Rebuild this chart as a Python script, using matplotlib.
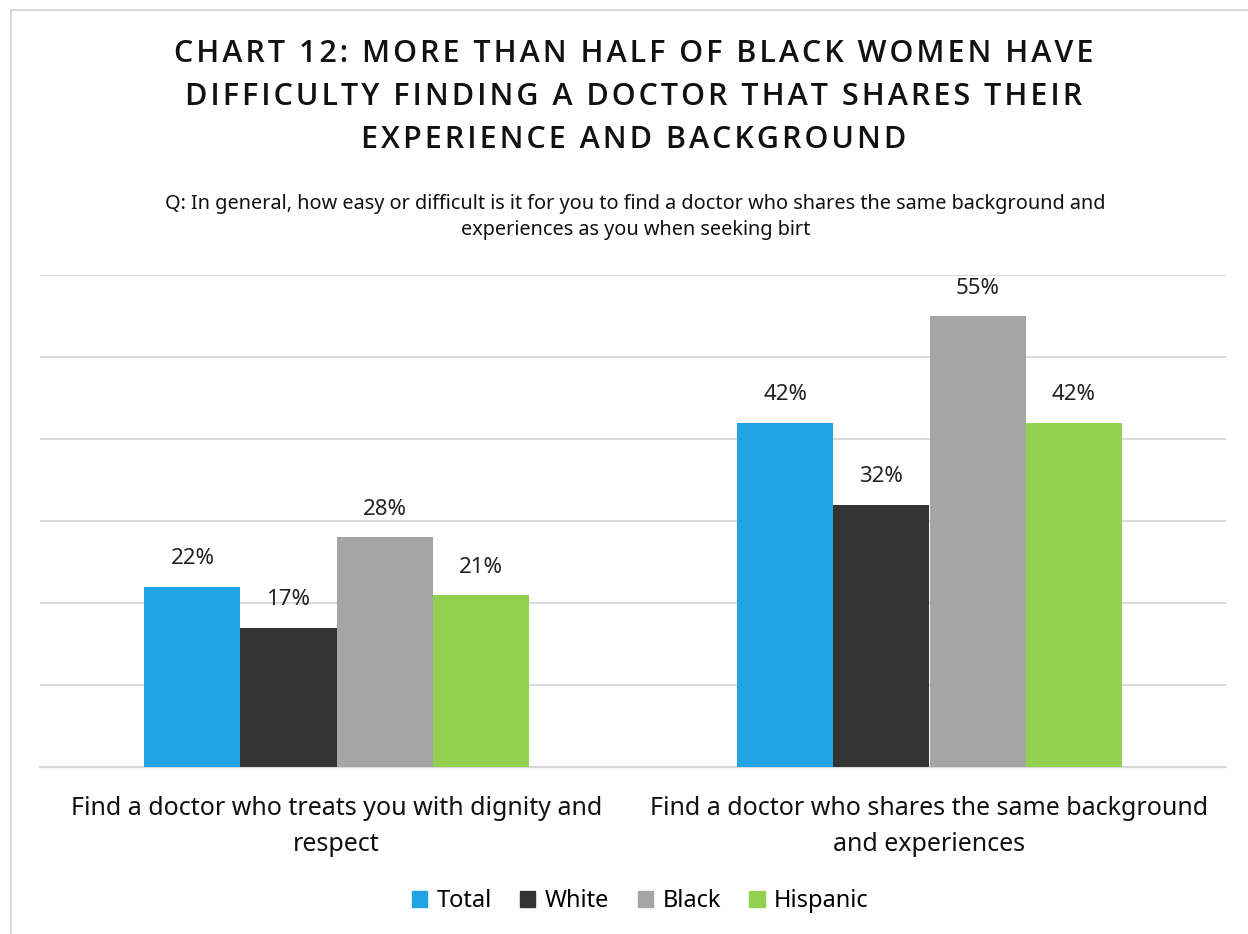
import matplotlib
matplotlib.use("Agg")
import matplotlib.pyplot as plt
import numpy as np
from matplotlib.lines import Line2D
from matplotlib import font_manager as fm

plt.rcParams["font.family"] = ["Noto Sans", "DejaVu Sans"]

categories = ["Find a doctor who treats you with dignity and\nrespect",
              "Find a doctor who shares the same background\nand experiences"]
series = ["Total", "White", "Black", "Hispanic"]
values = {
    "Total": [22, 42],
    "White": [17, 32],
    "Black": [28, 55],
    "Hispanic": [21, 42],
}
colors = {"Total": "#20A4E4", "White": "#333333", "Black": "#A5A5A5", "Hispanic": "#92D050"}

title_lines = ["CHART 12: MORE THAN HALF OF BLACK WOMEN HAVE",
               "DIFFICULTY FINDING A DOCTOR THAT SHARES THEIR",
               "EXPERIENCE AND BACKGROUND"]
subtitle = ("Q: In general, how easy or difficult is it for you to find a doctor who shares the same background and\n"
            "experiences as you when seeking birt")

# pick a real semibold/bold file of a normal-width sans for the title
title_font = None
for fam in ["Open Sans", "Noto Sans", "Lato", "Roboto"]:
    for wt in (600, 700):
        hits = [f for f in fm.fontManager.ttflist
                if f.name == fam and f.weight == wt and f.style == "normal"
                and str(f.stretch) in ("normal", "400", "100")
                and "ond" not in f.fname]
        if hits:
            title_font = fm.FontProperties(fname=hits[0].fname, size=22)
            break
    if title_font is not None:
        break
if title_font is None:
    title_font = fm.FontProperties(family="DejaVu Sans", weight="bold", size=20)

fig = plt.figure(figsize=(12.48, 9.34), dpi=100)
ax = fig.add_axes([40 / 1248, 1 - 767 / 934, (1226 - 40) / 1248, (767 - 275) / 934])

x = np.arange(len(categories))
w = 0.162
for i, s in enumerate(series):
    xs = x + (i - 1.5) * w
    ax.bar(xs, values[s], width=w, color=colors[s], label=s, zorder=3)
    for xi, v in zip(xs, values[s]):
        ax.annotate(f"{v}%", (xi, v), xytext=(0, 20), textcoords="offset points",
                    ha="center", va="center", fontsize=16, color="#222222")

ax.set_xlim(-0.5, 1.5)
ax.set_ylim(0, 60)
ax.set_yticks(np.arange(0, 61, 10))
ax.yaxis.grid(True, color="#D9D9D9", lw=1.4, zorder=0)
ax.tick_params(left=False, labelleft=False, bottom=False)
for sp in ["top", "right", "left"]:
    ax.spines[sp].set_visible(False)
ax.spines["bottom"].set_color("#D9D9D9")
ax.spines["bottom"].set_linewidth(1.6)
ax.set_xticks(x)
ax.set_xticklabels(categories, fontsize=18, color="#111111", linespacing=1.58)
ax.tick_params(axis="x", pad=17.5)

# spaced-out title
spaced = "\n".join("\u200a".join(line) for line in title_lines)
fig.text(0.508, 1 - 97 / 934, spaced, fontproperties=title_font,
         ha="center", va="center", color="#111111", linespacing=1.55)
fig.text(0.509, 1 - 217 / 934, subtitle,
         ha="center", va="center", fontsize=14.3, color="#111111", linespacing=1.4)

handles = [plt.Rectangle((0, 0), 1, 1, color=colors[s]) for s in series]
fig.legend(handles, series, loc="center", bbox_to_anchor=(0.513, 1 - 901 / 934), ncol=4,
           frameon=False, fontsize=17, handlelength=0.65, handleheight=0.65,
           handletextpad=0.4, columnspacing=1.2)

fig.add_artist(Line2D([11 / 1248, 11 / 1248], [0, 1 - 10 / 934], color="#D9D9D9", lw=1.5))
fig.add_artist(Line2D([11 / 1248, 1], [1 - 10 / 934, 1 - 10 / 934], color="#D9D9D9", lw=1.5))

fig.savefig("out.png", dpi=100, facecolor="white")
